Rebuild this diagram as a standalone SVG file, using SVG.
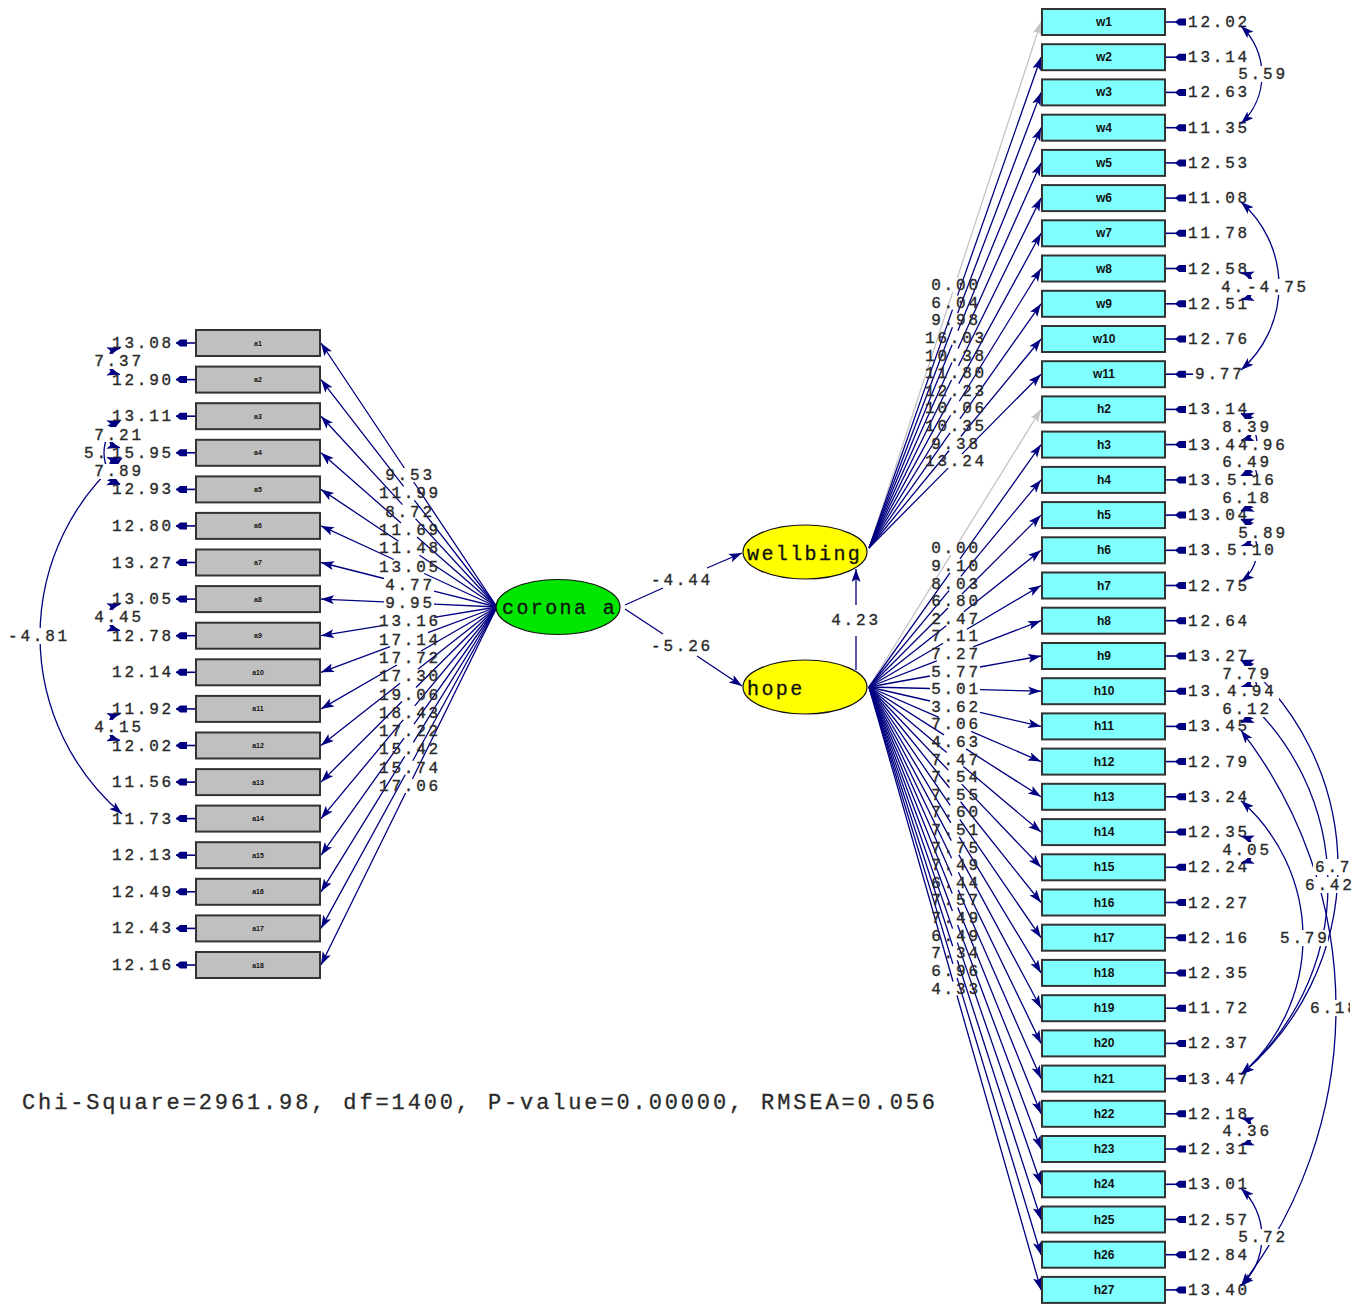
<svg xmlns="http://www.w3.org/2000/svg" width="1365" height="1304" viewBox="0 0 1365 1304">
<style>
.ln{stroke:#000080;stroke-width:1.3;fill:none;marker-end:url(#ah)}
.gl{stroke:#c4c4c4;stroke-width:1.3;fill:none;marker-end:url(#ahg)}
.cv{stroke:#000080;stroke-width:1.3;fill:none;marker-start:url(#ac);marker-end:url(#ac)}
.t{font-family:"Liberation Mono",monospace;font-size:16px;letter-spacing:2.8px;fill:#2a2a2a;stroke:#2a2a2a;stroke-width:0.35}
.m{text-anchor:middle}
.bg{fill:#fff;stroke:none}
.bw{fill:#80ffff;stroke:#333;stroke-width:2}
.ba{fill:#c0c0c0;stroke:#333;stroke-width:2}
.bl{font-family:"Liberation Sans",sans-serif;font-weight:bold;font-size:12px;text-anchor:middle;fill:#111}
.bs{font-size:7px}
.lt{font-family:"Liberation Mono",monospace;font-size:20px;letter-spacing:2.4px;fill:#111;stroke:#111;stroke-width:0.3}
</style>
<defs>
<marker id="ah" markerUnits="userSpaceOnUse" markerWidth="14" markerHeight="10" refX="13" refY="4.5" orient="auto"><path d="M0,0 L13,4.5 L0,9 L3,4.5 Z" fill="#000080"/></marker>
<marker id="ahg" markerUnits="userSpaceOnUse" markerWidth="14" markerHeight="10" refX="13" refY="4.5" orient="auto"><path d="M0,0 L13,4.5 L0,9 L3,4.5 Z" fill="#c4c4c4"/></marker>
<marker id="ac" markerUnits="userSpaceOnUse" markerWidth="14" markerHeight="10" refX="13" refY="4.5" orient="auto-start-reverse"><path d="M0,0 L13,4.5 L0,9 L3,4.5 Z" fill="#000080"/></marker>
<g id="erL"><path d="M0,0H20" stroke="#000080" stroke-width="1.6"/><path d="M0,0 L4,-3.5 H11 V3.5 H4 Z" fill="#000080"/></g>
<g id="erR"><path d="M0,0H20" stroke="#000080" stroke-width="1.6"/><path d="M9,0 L13,-3.5 H20 V3.5 H13 Z" fill="#000080"/></g>
<clipPath id="cp"><rect x="0" y="0" width="1350" height="1304"/></clipPath>
</defs>
<rect width="1365" height="1304" fill="#fff"/>

<g id="connectors">
<path class="ln" d="M497,607 L413.7,482 M404.3,468 L321,343"/>
<path class="ln" d="M497,607 L414.4,500.3 M403.6,486.3 L321,379.6"/>
<path class="ln" d="M497,607 L415.5,518.6 M402.5,504.6 L321,416.2"/>
<path class="ln" d="M497,607 L417,536.9 M401,522.9 L321,452.8"/>
<path class="ln" d="M497,607 L419.5,555.2 M398.5,541.2 L321,489.4"/>
<path class="ln" d="M497,607 L424.2,573.5 M393.8,559.5 L321,525.9"/>
<path class="ln" d="M497,607 L434,591.1 M384,578.5 L321,562.5"/>
<path class="ln" d="M497,607 L434,604.2 M384,601.9 L321,599.1"/>
<path class="ln" d="M497,607 L434,617.3 M384,625.4 L321,635.7"/>
<path class="ln" d="M497,607 L427.9,632.65 M390.1,646.65 L321,672.3"/>
<path class="ln" d="M497,607 L421.1,650.95 M396.9,664.95 L321,708.9"/>
<path class="ln" d="M497,607 L417.9,669.25 M400.1,683.25 L321,745.5"/>
<path class="ln" d="M497,607 L416,687.55 M402,701.55 L321,782.1"/>
<path class="ln" d="M497,607 L414.8,705.8 M403.2,719.8 L321,818.6"/>
<path class="ln" d="M497,607 L414,724.1 M404,738.1 L321,855.2"/>
<path class="ln" d="M497,607 L413.3,742.4 M404.7,756.4 L321,891.8"/>
<path class="ln" d="M497,607 L412.8,760.7 M405.2,774.7 L321,928.4"/>
<path class="ln" d="M497,607 L412.4,779 M405.6,793 L321,965"/>
<path class="gl" d="M869,548 L952.7,292 M957.3,278 L1041,22"/>
<path class="ln" d="M869,548 L952.5,309.6 M957.5,295.6 L1041,57.2"/>
<path class="ln" d="M869,548 L952.4,327.2 M957.6,313.2 L1041,92.4"/>
<path class="ln" d="M869,548 L952.1,344.85 M957.9,330.85 L1041,127.7"/>
<path class="ln" d="M869,548 L951.9,362.45 M958.1,348.45 L1041,162.9"/>
<path class="ln" d="M869,548 L951.6,380.05 M958.4,366.05 L1041,198.1"/>
<path class="ln" d="M869,548 L951.2,397.65 M958.8,383.65 L1041,233.3"/>
<path class="ln" d="M869,548 L950.7,415.25 M959.3,401.25 L1041,268.5"/>
<path class="ln" d="M869,548 L950.1,432.9 M959.9,418.9 L1041,303.8"/>
<path class="ln" d="M869,548 L949.2,450.5 M960.8,436.5 L1041,339"/>
<path class="ln" d="M869,548 L948.1,468.1 M961.9,454.1 L1041,374.2"/>
<path class="gl" d="M869,687 L950.7,555.2 M959.3,541.2 L1041,409.4"/>
<path class="ln" d="M869,687 L950,572.8 M960,558.8 L1041,444.6"/>
<path class="ln" d="M869,687 L949.2,590.45 M960.8,576.45 L1041,479.9"/>
<path class="ln" d="M869,687 L948,608.05 M962,594.05 L1041,515.1"/>
<path class="ln" d="M869,687 L946.2,625.65 M963.8,611.65 L1041,550.3"/>
<path class="ln" d="M869,687 L943.1,643.25 M966.9,629.25 L1041,585.5"/>
<path class="ln" d="M869,687 L936.8,660.85 M973.2,646.85 L1041,620.7"/>
<path class="ln" d="M869,687 L930,676 M980,667 L1041,656"/>
<path class="ln" d="M869,687 L930,688.5 M980,689.7 L1041,691.2"/>
<path class="ln" d="M869,687 L930,701 M980,712.4 L1041,726.4"/>
<path class="ln" d="M869,687 L938.9,717.3 M971.1,731.3 L1041,761.6"/>
<path class="ln" d="M869,687 L944,734.9 M966,748.9 L1041,796.8"/>
<path class="ln" d="M869,687 L946.7,752.55 M963.3,766.55 L1041,832.1"/>
<path class="ln" d="M869,687 L948.3,770.15 M961.7,784.15 L1041,867.3"/>
<path class="ln" d="M869,687 L949.4,787.75 M960.6,801.75 L1041,902.5"/>
<path class="ln" d="M869,687 L950.2,805.35 M959.8,819.35 L1041,937.7"/>
<path class="ln" d="M869,687 L950.8,822.95 M959.2,836.95 L1041,972.9"/>
<path class="ln" d="M869,687 L951.3,840.6 M958.8,854.6 L1041,1008.2"/>
<path class="ln" d="M869,687 L951.6,858.2 M958.4,872.2 L1041,1043.4"/>
<path class="ln" d="M869,687 L951.9,875.8 M958.1,889.8 L1041,1078.6"/>
<path class="ln" d="M869,687 L952.2,893.4 M957.8,907.4 L1041,1113.8"/>
<path class="ln" d="M869,687 L952.4,911 M957.6,925 L1041,1149"/>
<path class="ln" d="M869,687 L952.6,928.65 M957.4,942.65 L1041,1184.3"/>
<path class="ln" d="M869,687 L952.7,946.25 M957.3,960.25 L1041,1219.5"/>
<path class="ln" d="M869,687 L952.9,963.85 M957.1,977.85 L1041,1254.7"/>
<path class="ln" d="M869,687 L953,981.45 M957,995.45 L1041,1289.9"/>
<path class="ln" d="M625,605 L663,588 M707,568 L742,553"/>
<path class="ln" d="M625,609 L663,634 M697,656 L742,686"/>
<path class="ln" d="M856,670 L856,636 M856,605 L856,569"/>
<use href="#erL" x="176" y="343"/><use href="#erL" x="176" y="379.6"/><use href="#erL" x="176" y="416.2"/>
<use href="#erL" x="176" y="452.8"/><use href="#erL" x="176" y="489.4"/><use href="#erL" x="176" y="525.9"/>
<use href="#erL" x="176" y="562.5"/><use href="#erL" x="176" y="599.1"/><use href="#erL" x="176" y="635.7"/>
<use href="#erL" x="176" y="672.3"/><use href="#erL" x="176" y="708.9"/><use href="#erL" x="176" y="745.5"/>
<use href="#erL" x="176" y="782.1"/><use href="#erL" x="176" y="818.6"/><use href="#erL" x="176" y="855.2"/>
<use href="#erL" x="176" y="891.8"/><use href="#erL" x="176" y="928.4"/><use href="#erL" x="176" y="965"/>
<use href="#erR" x="1166" y="22"/><use href="#erR" x="1166" y="57.2"/><use href="#erR" x="1166" y="92.4"/>
<use href="#erR" x="1166" y="127.7"/><use href="#erR" x="1166" y="162.9"/><use href="#erR" x="1166" y="198.1"/>
<use href="#erR" x="1166" y="233.3"/><use href="#erR" x="1166" y="268.5"/><use href="#erR" x="1166" y="303.8"/>
<use href="#erR" x="1166" y="339"/><use href="#erR" x="1166" y="374.2"/><path d="M1186,374.2H1193" stroke="#000080" stroke-width="1.6"/>
<use href="#erR" x="1166" y="409.4"/><use href="#erR" x="1166" y="444.6"/><use href="#erR" x="1166" y="479.9"/>
<use href="#erR" x="1166" y="515.1"/><use href="#erR" x="1166" y="550.3"/><use href="#erR" x="1166" y="585.5"/>
<use href="#erR" x="1166" y="620.7"/><use href="#erR" x="1166" y="656"/><use href="#erR" x="1166" y="691.2"/>
<use href="#erR" x="1166" y="726.4"/><use href="#erR" x="1166" y="761.6"/><use href="#erR" x="1166" y="796.8"/>
<use href="#erR" x="1166" y="832.1"/><use href="#erR" x="1166" y="867.3"/><use href="#erR" x="1166" y="902.5"/>
<use href="#erR" x="1166" y="937.7"/><use href="#erR" x="1166" y="972.9"/><use href="#erR" x="1166" y="1008.2"/>
<use href="#erR" x="1166" y="1043.4"/><use href="#erR" x="1166" y="1078.6"/><use href="#erR" x="1166" y="1113.8"/>
<use href="#erR" x="1166" y="1149"/><use href="#erR" x="1166" y="1184.3"/><use href="#erR" x="1166" y="1219.5"/>
<use href="#erR" x="1166" y="1254.7"/><use href="#erR" x="1166" y="1289.9"/>
</g>

<g id="loading-labels" class="t m">
<text x="410" y="480">9.53</text><text x="410" y="498.3">11.99</text><text x="410" y="516.6">8.72</text>
<text x="410" y="534.9">11.69</text><text x="410" y="553.2">11.48</text><text x="410" y="571.5">13.05</text>
<text x="410" y="589.8">4.77</text><text x="410" y="608.1">9.95</text><text x="410" y="626.4">13.16</text>
<text x="410" y="644.6">17.14</text><text x="410" y="662.9">17.72</text><text x="410" y="681.2">17.30</text>
<text x="410" y="699.5">19.06</text><text x="410" y="717.8">18.43</text><text x="410" y="736.1">17.22</text>
<text x="410" y="754.4">15.42</text><text x="410" y="772.7">15.74</text><text x="410" y="791">17.06</text>
<text x="956" y="290">0.00</text><text x="956" y="307.6">6.04</text><text x="956" y="325.2">9.98</text>
<text x="956" y="342.9">16.03</text><text x="956" y="360.5">10.38</text><text x="956" y="378.1">11.80</text>
<text x="956" y="395.7">12.23</text><text x="956" y="413.3">10.06</text><text x="956" y="430.9">10.35</text>
<text x="956" y="448.5">9.38</text><text x="956" y="466.1">13.24</text>
<text x="956" y="553.2">0.00</text><text x="956" y="570.8">9.10</text><text x="956" y="588.5">8.03</text>
<text x="956" y="606.1">6.80</text><text x="956" y="623.7">2.47</text><text x="956" y="641.3">7.11</text>
<text x="956" y="658.9">7.27</text><text x="956" y="676.5">5.77</text><text x="956" y="694.1">5.01</text>
<text x="956" y="711.7">3.62</text><text x="956" y="729.3">7.06</text><text x="956" y="746.9">4.63</text>
<text x="956" y="764.6">7.47</text><text x="956" y="782.2">7.54</text><text x="956" y="799.8">7.55</text>
<text x="956" y="817.4">7.60</text><text x="956" y="835">7.51</text><text x="956" y="852.6">7.75</text>
<text x="956" y="870.2">7.49</text><text x="956" y="887.8">6.44</text><text x="956" y="905.4">7.57</text>
<text x="956" y="923">7.49</text><text x="956" y="940.7">6.49</text><text x="956" y="958.3">7.34</text>
<text x="956" y="975.9">6.96</text><text x="956" y="993.5">4.33</text>
<text x="682" y="585">-4.44</text><text x="682" y="651">-5.26</text><text x="856" y="625">4.23</text>
</g>

<g id="error-labels" class="t">
<g class="m">
<text x="143" y="348">13.08</text><text x="143" y="384.6">12.90</text><text x="143" y="421.2">13.11</text>
<text x="143" y="457.8">15.95</text><text x="143" y="494.4">12.93</text><text x="143" y="530.9">12.80</text>
<text x="143" y="567.5">13.27</text><text x="143" y="604.1">13.05</text><text x="143" y="640.7">12.78</text>
<text x="143" y="677.3">12.14</text><text x="143" y="713.9">11.92</text><text x="143" y="750.5">12.02</text>
<text x="143" y="787.1">11.56</text><text x="143" y="823.6">11.73</text><text x="143" y="860.2">12.13</text>
<text x="143" y="896.8">12.49</text><text x="143" y="933.4">12.43</text><text x="143" y="970">12.16</text>
</g>
<text x="1188" y="27">12.02</text><text x="1188" y="62.2">13.14</text><text x="1188" y="97.4">12.63</text>
<text x="1188" y="132.7">11.35</text><text x="1188" y="167.9">12.53</text><text x="1188" y="203.1">11.08</text>
<text x="1188" y="238.3">11.78</text><text x="1188" y="273.5">12.58</text><text x="1188" y="308.8">12.51</text>
<text x="1188" y="344">12.76</text><text x="1195" y="379.2">9.77</text>
<text x="1188" y="414.4">13.14</text><text x="1188" y="449.6">13.4</text><text x="1188" y="484.9">13.</text>
<text x="1188" y="520.1">13.04</text><text x="1188" y="555.3">13.</text><text x="1188" y="590.5">12.75</text>
<text x="1188" y="625.7">12.64</text><text x="1188" y="661">13.27</text><text x="1188" y="696.2">13.</text>
<text x="1188" y="731.4">13.45</text><text x="1188" y="766.6">12.79</text><text x="1188" y="801.8">13.24</text>
<text x="1188" y="837.1">12.35</text><text x="1188" y="872.3">12.24</text><text x="1188" y="907.5">12.27</text>
<text x="1188" y="942.7">12.16</text><text x="1188" y="977.9">12.35</text><text x="1188" y="1013.2">11.72</text>
<text x="1188" y="1048.4">12.37</text><text x="1188" y="1083.6">13.47</text><text x="1188" y="1118.8">12.18</text>
<text x="1188" y="1154">12.31</text><text x="1188" y="1189.3">13.01</text><text x="1188" y="1224.5">12.57</text>
<text x="1188" y="1259.7">12.84</text><text x="1188" y="1294.9">13.40</text>
</g>

<g id="covariances">
<path class="cv" d="M1241,26 A67.3,67.3 0 0 1 1241,123.7"/>
<path class="cv" d="M1241,202 A111.8,111.8 0 0 1 1241,370"/>
<path class="cv" d="M1241,272.5 A14.1,14.1 0 0 1 1241,299.8"/>
<path class="cv" d="M1241,413.4 A14.2,14.2 0 0 1 1241,440.6"/>
<path class="cv" d="M1241,413.4 A38.4,38.4 0 0 1 1241,475.9"/>
<path class="cv" d="M1241,448.6 A14.2,14.2 0 0 1 1241,475.9"/>
<path class="cv" d="M1241,448.6 A38.4,38.4 0 0 1 1241,511.1"/>
<path class="cv" d="M1241,483.9 A14.2,14.2 0 0 1 1241,511.1"/>
<path class="cv" d="M1241,519.1 A14.2,14.2 0 0 1 1241,546.3"/>
<path class="cv" d="M1241,519.1 A38.4,38.4 0 0 1 1241,581.5"/>
<path class="cv" d="M1241,660 A14.2,14.2 0 0 1 1241,687.2"/>
<path class="cv" d="M1241,660 A38.4,38.4 0 0 1 1241,722.4"/>
<path class="cv" d="M1241,695.2 A14.2,14.2 0 0 1 1241,722.4"/>
<path class="cv" d="M1241,836.1 A14.2,14.2 0 0 1 1241,863.3"/>
<path class="cv" d="M1241,1117.8 A14.2,14.2 0 0 1 1241,1145"/>
<path class="cv" d="M1241,1188.3 A67.2,67.2 0 0 1 1241,1285.9"/>
<path class="cv" d="M1241,660 A270,270 0 0 1 1241,1074.6"/>
<path class="cv" d="M1241,695.2 A250.3,250.3 0 0 1 1241,1074.6"/>
<path class="cv" d="M1241,800.8 A182.1,182.1 0 0 1 1241,1074.6"/>
<path class="cv" d="M1241,730.4 A453.5,453.5 0 0 1 1241,1285.9"/>
<path class="cv" d="M120,348 A13.8,13.8 0 0 0 120,374.6"/>
<path class="cv" d="M120,421.2 A13.8,13.8 0 0 0 120,447.8"/>
<path class="cv" d="M120,421.2 A39.2,39.2 0 0 0 120,484.4"/>
<path class="cv" d="M120,457.8 A13.8,13.8 0 0 0 120,484.4"/>
<path class="cv" d="M120,604.1 A13.8,13.8 0 0 0 120,630.7"/>
<path class="cv" d="M120,713.9 A13.8,13.8 0 0 0 120,740.5"/>
<path class="cv" d="M122,458 A234.2,234.2 0 0 0 122,814"/>
</g>

<g id="covariance-labels" class="t">
<text x="1221" y="292">4.</text>
<rect class="bg" x="1236" y="66" width="50" height="16"/><text class="m" x="1263" y="79">5.59</text>
<rect class="bg" x="1244" y="279" width="64" height="16"/><text class="m" x="1278" y="292">-4.75</text>
<rect class="bg" x="1220" y="419" width="50" height="16"/><text class="m" x="1247" y="432">8.39</text>
<rect class="bg" x="1236" y="441" width="48" height="15"/><text x="1238" y="449.6">4.96</text>
<rect class="bg" x="1220" y="454" width="50" height="16"/><text class="m" x="1247" y="467">6.49</text>
<rect class="bg" x="1225" y="476" width="54" height="15"/><text x="1227" y="485">5.16</text>
<rect class="bg" x="1220" y="490" width="50" height="16"/><text class="m" x="1247" y="502.5">6.18</text>
<rect class="bg" x="1236" y="525" width="50" height="16"/><text class="m" x="1263" y="537.7">5.89</text>
<rect class="bg" x="1225" y="546" width="54" height="15"/><text x="1227" y="555.3">5.10</text>
<rect class="bg" x="1220" y="666" width="50" height="16"/><text class="m" x="1247" y="678.6">7.79</text>
<rect class="bg" x="1225" y="687" width="54" height="15"/><text x="1227" y="696.2">4.94</text>
<rect class="bg" x="1220" y="701" width="50" height="16"/><text class="m" x="1247" y="713.8">6.12</text>
<rect class="bg" x="1220" y="842" width="50" height="16"/><text class="m" x="1247" y="854.7">4.05</text>
<rect class="bg" x="1220" y="1124" width="50" height="16"/><text class="m" x="1247" y="1136.4">4.36</text>
<rect class="bg" x="1236" y="1229" width="50" height="16"/><text class="m" x="1263" y="1242">5.72</text>
<rect class="bg" x="1313" y="859" width="40" height="16"/><text x="1315" y="872">6.7</text>
<rect class="bg" x="1303" y="877" width="50" height="16"/><text x="1305" y="890">6.42</text>
<rect class="bg" x="1278" y="930" width="50" height="16"/><text x="1280" y="942.7">5.79</text>
<g clip-path="url(#cp)"><rect class="bg" x="1308" y="1000" width="50" height="16"/><text x="1310" y="1013">6.18</text></g>
<rect class="bg" x="92" y="354" width="50" height="15"/><text class="m" x="119" y="366.3">7.37</text>
<rect class="bg" x="92" y="427" width="50" height="15"/><text class="m" x="119" y="439.5">7.21</text>
<text x="84" y="457.8">5.</text>
<rect class="bg" x="92" y="464" width="50" height="15"/><text class="m" x="119" y="476.1">7.89</text>
<rect class="bg" x="92" y="610" width="50" height="15"/><text class="m" x="119" y="622.4">4.45</text>
<rect class="bg" x="92" y="720" width="50" height="15"/><text class="m" x="119" y="732.2">4.15</text>
<rect class="bg" x="5" y="628" width="64" height="16"/><text class="m" x="39" y="640.7">-4.81</text>
</g>

<g id="corona"><ellipse cx="558" cy="607" rx="62" ry="27.5" fill="#00e600" stroke="#111" stroke-width="1.2"/><text class="lt" x="502" y="614">corona a</text></g>
<g id="wellbing"><ellipse cx="805" cy="552" rx="62" ry="27" fill="#ffff00" stroke="#111" stroke-width="1.2"/><text class="lt" x="747" y="560">wellbing</text></g>
<g id="hope"><ellipse cx="805" cy="687" rx="62" ry="27" fill="#ffff00" stroke="#111" stroke-width="1.2"/><text class="lt" x="747" y="695">hope</text></g>

<g id="a1"><rect class="ba" x="196" y="330" width="124" height="26"/><text class="bl bs" x="258" y="345.5">a1</text></g>
<g id="a2"><rect class="ba" x="196" y="366.6" width="124" height="26"/><text class="bl bs" x="258" y="382.1">a2</text></g>
<g id="a3"><rect class="ba" x="196" y="403.2" width="124" height="26"/><text class="bl bs" x="258" y="418.7">a3</text></g>
<g id="a4"><rect class="ba" x="196" y="439.8" width="124" height="26"/><text class="bl bs" x="258" y="455.3">a4</text></g>
<g id="a5"><rect class="ba" x="196" y="476.4" width="124" height="26"/><text class="bl bs" x="258" y="491.9">a5</text></g>
<g id="a6"><rect class="ba" x="196" y="512.9" width="124" height="26"/><text class="bl bs" x="258" y="528.4">a6</text></g>
<g id="a7"><rect class="ba" x="196" y="549.5" width="124" height="26"/><text class="bl bs" x="258" y="565">a7</text></g>
<g id="a8"><rect class="ba" x="196" y="586.1" width="124" height="26"/><text class="bl bs" x="258" y="601.6">a8</text></g>
<g id="a9"><rect class="ba" x="196" y="622.7" width="124" height="26"/><text class="bl bs" x="258" y="638.2">a9</text></g>
<g id="a10"><rect class="ba" x="196" y="659.3" width="124" height="26"/><text class="bl bs" x="258" y="674.8">a10</text></g>
<g id="a11"><rect class="ba" x="196" y="695.9" width="124" height="26"/><text class="bl bs" x="258" y="711.4">a11</text></g>
<g id="a12"><rect class="ba" x="196" y="732.5" width="124" height="26"/><text class="bl bs" x="258" y="748">a12</text></g>
<g id="a13"><rect class="ba" x="196" y="769.1" width="124" height="26"/><text class="bl bs" x="258" y="784.6">a13</text></g>
<g id="a14"><rect class="ba" x="196" y="805.6" width="124" height="26"/><text class="bl bs" x="258" y="821.1">a14</text></g>
<g id="a15"><rect class="ba" x="196" y="842.2" width="124" height="26"/><text class="bl bs" x="258" y="857.7">a15</text></g>
<g id="a16"><rect class="ba" x="196" y="878.8" width="124" height="26"/><text class="bl bs" x="258" y="894.3">a16</text></g>
<g id="a17"><rect class="ba" x="196" y="915.4" width="124" height="26"/><text class="bl bs" x="258" y="930.9">a17</text></g>
<g id="a18"><rect class="ba" x="196" y="952" width="124" height="26"/><text class="bl bs" x="258" y="967.5">a18</text></g>

<g id="w1"><rect class="bw" x="1042" y="9" width="123" height="26"/><text class="bl" x="1104" y="26">w1</text></g>
<g id="w2"><rect class="bw" x="1042" y="44.2" width="123" height="26"/><text class="bl" x="1104" y="61.2">w2</text></g>
<g id="w3"><rect class="bw" x="1042" y="79.4" width="123" height="26"/><text class="bl" x="1104" y="96.4">w3</text></g>
<g id="w4"><rect class="bw" x="1042" y="114.7" width="123" height="26"/><text class="bl" x="1104" y="131.7">w4</text></g>
<g id="w5"><rect class="bw" x="1042" y="149.9" width="123" height="26"/><text class="bl" x="1104" y="166.9">w5</text></g>
<g id="w6"><rect class="bw" x="1042" y="185.1" width="123" height="26"/><text class="bl" x="1104" y="202.1">w6</text></g>
<g id="w7"><rect class="bw" x="1042" y="220.3" width="123" height="26"/><text class="bl" x="1104" y="237.3">w7</text></g>
<g id="w8"><rect class="bw" x="1042" y="255.5" width="123" height="26"/><text class="bl" x="1104" y="272.5">w8</text></g>
<g id="w9"><rect class="bw" x="1042" y="290.8" width="123" height="26"/><text class="bl" x="1104" y="307.8">w9</text></g>
<g id="w10"><rect class="bw" x="1042" y="326" width="123" height="26"/><text class="bl" x="1104" y="343">w10</text></g>
<g id="w11"><rect class="bw" x="1042" y="361.2" width="123" height="26"/><text class="bl" x="1104" y="378.2">w11</text></g>
<g id="h2"><rect class="bw" x="1042" y="396.4" width="123" height="26"/><text class="bl" x="1104" y="413.4">h2</text></g>
<g id="h3"><rect class="bw" x="1042" y="431.6" width="123" height="26"/><text class="bl" x="1104" y="448.6">h3</text></g>
<g id="h4"><rect class="bw" x="1042" y="466.9" width="123" height="26"/><text class="bl" x="1104" y="483.9">h4</text></g>
<g id="h5"><rect class="bw" x="1042" y="502.1" width="123" height="26"/><text class="bl" x="1104" y="519.1">h5</text></g>
<g id="h6"><rect class="bw" x="1042" y="537.3" width="123" height="26"/><text class="bl" x="1104" y="554.3">h6</text></g>
<g id="h7"><rect class="bw" x="1042" y="572.5" width="123" height="26"/><text class="bl" x="1104" y="589.5">h7</text></g>
<g id="h8"><rect class="bw" x="1042" y="607.7" width="123" height="26"/><text class="bl" x="1104" y="624.7">h8</text></g>
<g id="h9"><rect class="bw" x="1042" y="643" width="123" height="26"/><text class="bl" x="1104" y="660">h9</text></g>
<g id="h10"><rect class="bw" x="1042" y="678.2" width="123" height="26"/><text class="bl" x="1104" y="695.2">h10</text></g>
<g id="h11"><rect class="bw" x="1042" y="713.4" width="123" height="26"/><text class="bl" x="1104" y="730.4">h11</text></g>
<g id="h12"><rect class="bw" x="1042" y="748.6" width="123" height="26"/><text class="bl" x="1104" y="765.6">h12</text></g>
<g id="h13"><rect class="bw" x="1042" y="783.8" width="123" height="26"/><text class="bl" x="1104" y="800.8">h13</text></g>
<g id="h14"><rect class="bw" x="1042" y="819.1" width="123" height="26"/><text class="bl" x="1104" y="836.1">h14</text></g>
<g id="h15"><rect class="bw" x="1042" y="854.3" width="123" height="26"/><text class="bl" x="1104" y="871.3">h15</text></g>
<g id="h16"><rect class="bw" x="1042" y="889.5" width="123" height="26"/><text class="bl" x="1104" y="906.5">h16</text></g>
<g id="h17"><rect class="bw" x="1042" y="924.7" width="123" height="26"/><text class="bl" x="1104" y="941.7">h17</text></g>
<g id="h18"><rect class="bw" x="1042" y="959.9" width="123" height="26"/><text class="bl" x="1104" y="976.9">h18</text></g>
<g id="h19"><rect class="bw" x="1042" y="995.2" width="123" height="26"/><text class="bl" x="1104" y="1012.2">h19</text></g>
<g id="h20"><rect class="bw" x="1042" y="1030.4" width="123" height="26"/><text class="bl" x="1104" y="1047.4">h20</text></g>
<g id="h21"><rect class="bw" x="1042" y="1065.6" width="123" height="26"/><text class="bl" x="1104" y="1082.6">h21</text></g>
<g id="h22"><rect class="bw" x="1042" y="1100.8" width="123" height="26"/><text class="bl" x="1104" y="1117.8">h22</text></g>
<g id="h23"><rect class="bw" x="1042" y="1136" width="123" height="26"/><text class="bl" x="1104" y="1153">h23</text></g>
<g id="h24"><rect class="bw" x="1042" y="1171.3" width="123" height="26"/><text class="bl" x="1104" y="1188.3">h24</text></g>
<g id="h25"><rect class="bw" x="1042" y="1206.5" width="123" height="26"/><text class="bl" x="1104" y="1223.5">h25</text></g>
<g id="h26"><rect class="bw" x="1042" y="1241.7" width="123" height="26"/><text class="bl" x="1104" y="1258.7">h26</text></g>
<g id="h27"><rect class="bw" x="1042" y="1276.9" width="123" height="26"/><text class="bl" x="1104" y="1293.9">h27</text></g>

<text x="22" y="1109" textLength="913" lengthAdjust="spacing" font-family="Liberation Mono, monospace" font-size="22" fill="#2a2a2a" stroke="#2a2a2a" stroke-width="0.3">Chi-Square=2961.98, df=1400, P-value=0.00000, RMSEA=0.056</text>
</svg>
